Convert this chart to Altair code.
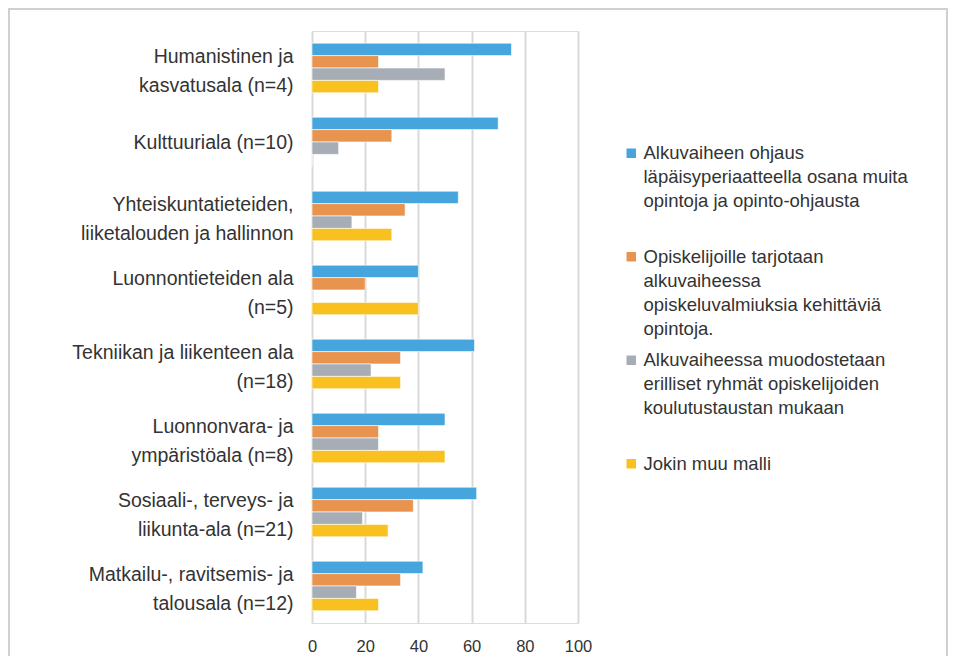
import altair as alt
import pandas as pd

categories = [
    "Humanistinen ja|kasvatusala (n=4)",
    "Kulttuuriala (n=10)",
    "Yhteiskuntatieteiden,|liiketalouden ja hallinnon",
    "Luonnontieteiden ala|(n=5)",
    "Tekniikan ja liikenteen ala|(n=18)",
    "Luonnonvara- ja|ympäristöala (n=8)",
    "Sosiaali-, terveys- ja|liikunta-ala (n=21)",
    "Matkailu-, ravitsemis- ja|talousala (n=12)",
]
series = [
    "Alkuvaiheen ohjaus|läpäisyperiaatteella osana muita|opintoja ja opinto-ohjausta",
    "Opiskelijoille tarjotaan|alkuvaiheessa|opiskeluvalmiuksia kehittäviä|opintoja.",
    "Alkuvaiheessa muodostetaan|erilliset ryhmät opiskelijoiden|koulutustaustan mukaan",
    "Jokin muu malli",
]
colors = ["#45a5dc", "#e8944f", "#a7adb5", "#f8c120"]

s1 = [75, 70, 55, 40, 61.1, 50, 61.9, 41.7]
s2 = [25, 30, 35, 20, 33.3, 25, 38.1, 33.3]
s3 = [50, 10, 15, 0, 22.2, 25, 19.0, 16.7]
s4 = [25, 0, 30, 40, 33.3, 50, 28.6, 25]
x_ticks = [0, 20, 40, 60, 80, 100]

rows = []
for vals, s in zip([s1, s2, s3, s4], series):
    for c, v in zip(categories, vals):
        rows.append({"cat": c, "ser": s, "val": v})
df = pd.DataFrame(rows)

FONT = "Liberation Sans"
TXT = "#333333"
GRID = "#d9d9d9"

bars = alt.Chart(df).mark_bar(stroke="white", strokeWidth=0.6).encode(
    y=alt.Y(
        "cat:N",
        sort=categories,
        scale=alt.Scale(paddingInner=0.33, paddingOuter=0.165),
        axis=alt.Axis(
            title=None,
            labelExpr="split(datum.label, '|')",
            labelFont=FONT,
            labelFontSize=19.5,
            labelColor=TXT,
            labelLineHeight=29,
            labelPadding=19,
            labelLimit=300,
            labelOffset={"condition": {"test": "indexof(datum.value, '|') >= 0", "value": -11}, "value": 1},
            ticks=False,
            domain=False,
            grid=False,
        ),
    ),
    yOffset=alt.YOffset("ser:N", sort=series, scale=alt.Scale(domain=series, paddingInner=0, paddingOuter=0)),
    x=alt.X(
        "val:Q",
        scale=alt.Scale(domain=[0, 100], nice=False),
        axis=alt.Axis(
            title=None,
            values=x_ticks,
            grid=True,
            gridColor=GRID,
            gridWidth=2,
            domain=False,
            ticks=False,
            labelFlush=False,
            labelFont=FONT,
            labelFontSize=16.5,
            labelColor=TXT,
            labelPadding=15,
        ),
    ),
    color=alt.Color(
        "ser:N",
        sort=series,
        scale=alt.Scale(domain=series, range=colors),
        legend=alt.Legend(
            title=None,
            orient="none",
            legendX=310,
            legendY=113,
            labelExpr="split(datum.label, '|')",
            labelFont=FONT,
            labelFontSize=18.5,
            labelColor=TXT,
            labelLimit=330,
            symbolType="square",
            symbolSize=90,
            symbolStrokeWidth=0,
            gridAlign="all",
            rowPadding=12.5,
            labelOffset=3,
        ),
    ),
)

frame = alt.Chart(pd.DataFrame({"k": [0]})).mark_rect(
    fill=None, stroke="#d0d0d0", strokeWidth=2
).encode(
    x=alt.value(-303), x2=alt.value(635), y=alt.value(-22), y2=alt.value(700)
)

chart = alt.layer(frame, bars).properties(
    width=266,
    height=592,
    autosize=alt.AutoSizeParams(type="none"),
    padding={"left": 304, "top": 23, "right": 370, "bottom": 33},
).configure_view(stroke=None).configure(style={"guide-label": {"lineHeight": 24}})

chart.save("out.html", embed_options={"renderer": "svg", "actions": False})
